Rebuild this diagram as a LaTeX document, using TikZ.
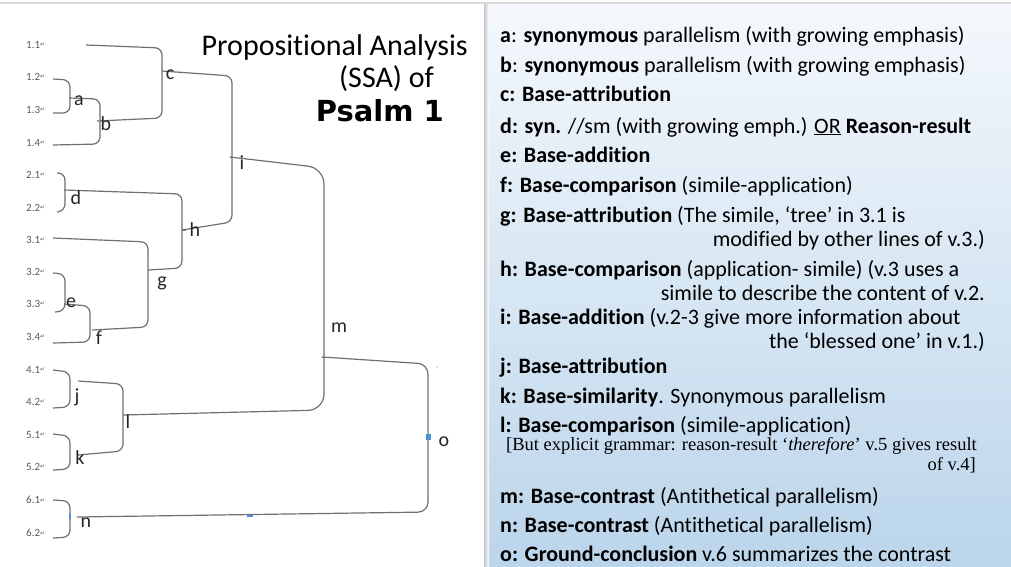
\documentclass[tikz,border=0pt]{standalone}
\usepackage{fontspec}
\setmainfont[RawFeature=-liga]{Carlito}
\newfontfamily\arialf{DejaVu Sans}
\newfontfamily\timesf{Liberation Serif}
\newfontfamily\djv{DejaVu Sans}
\definecolor{treeline}{HTML}{707070}
\definecolor{versecol}{HTML}{5A5A5A}
\definecolor{paneltop}{HTML}{F4F8FC}
\definecolor{panelbot}{HTML}{BBD5EB}
\definecolor{markblue}{HTML}{4F8FD8}
\begin{document}
\begin{tikzpicture}[x=1pt,y=-1pt,
  branch/.style={draw=treeline, line width=1.2pt, rounded corners=7pt},
  verse/.style={anchor=west, inner sep=0pt, text=versecol, font=\fontsize{11}{11}\selectfont},
  rel/.style={inner sep=0pt, text=black!85, font=\fontsize{20}{20}\selectfont},
  desc/.style={anchor=base west, inner sep=0pt, font=\fontsize{22}{22}\selectfont},
  descr/.style={anchor=base east, inner sep=0pt, font=\fontsize{22}{22}\selectfont},
  note/.style={inner sep=0pt, font=\timesf\fontsize{18.5}{18.5}\selectfont}]
\useasboundingbox (0,0) rectangle (1011,566);
\fill[white] (0,0) rectangle (1011,566);
% top rule
\fill[black!15] (0,1.5) rectangle (1011,4);
% right panel
\shade[top color=paneltop, bottom color=panelbot] (484,4) rectangle (1011,566);
\shade[left color=black!22, right color=paneltop!0] (484,4) rectangle (489,566);

% title
\node[anchor=base east, inner sep=0pt, font=\fontsize{30}{30}\selectfont] (t1) at (468,55) {Propositional Analysis};
\node[anchor=base east, inner sep=0pt, font=\fontsize{30}{30}\selectfont] (t2) at (434,87) {(SSA) of};
\node[anchor=base east, inner sep=0pt, font=\arialf\bfseries\fontsize{29}{29}\selectfont] (t3) at (444,121) {Psalm 1};

% verse labels
\foreach \lab/\yy in {1.1/45,1.2/77,1.3/110,1.4/143,2.1/175,2.2/208,3.1/240,3.2/272,3.3/304,3.4/337,4.1/370,4.2/402,5.1/435,5.2/467,6.1/500,6.2/533}{
  \node[verse] (v\lab) at (26,\yy) {\lab\raisebox{0.3ex}{\djv\fontsize{6}{6}\selectfont ↵}};
}

% leaf coordinates
\coordinate (L11) at (86,45);
\coordinate (L12) at (53,79);
\coordinate (L13) at (53,113);
\coordinate (L14) at (53,145);
\coordinate (L21) at (57,173);
\coordinate (L22) at (57,212);
\coordinate (L31) at (53,238);
\coordinate (L32) at (53,273);
\coordinate (L33) at (55,312);
\coordinate (L34) at (53,343);
\coordinate (L41) at (53,370);
\coordinate (L42) at (53,408);
\coordinate (L51) at (53,434);
\coordinate (L52) at (53,470);
\coordinate (L61) at (53,500);
\coordinate (L62) at (53,538);
% junctions
\coordinate (A) at (69,98);
\coordinate (B) at (97,121);
\coordinate (C) at (162,71);
\coordinate (D) at (64,190);
\coordinate (E) at (64,304);
\coordinate (F) at (92,330);
\coordinate (G) at (148,270);
\coordinate (H) at (182,230);
\coordinate (I) at (230,157);
\coordinate (J) at (78,381);
\coordinate (K) at (78,455);
\coordinate (Lj) at (123,415);
\coordinate (M) at (322,357);
\coordinate (N) at (77,517);

% brackets
\draw[branch] (L12) -- (70,80) -- (70,113) -- (L13);
\draw[branch] (A) -- (100,99) -- (100,144) -- (L14);
\draw[branch] (L11) -- (162,48) -- (162,118) -- (B);
\draw[branch] (C) -- (232,76) -- (232,222) -- (H);
\draw[branch] (L21) -- (65,173) -- (65,211) -- (L22);
\draw[branch] (D) -- (182,194) -- (182,268) -- (G);
\draw[branch] (L31) -- (148,242) -- (148,327) -- (F);
\draw[branch] (L32) -- (65,274) -- (65,311) -- (L33);
\draw[branch] (E) -- (90,306) -- (90,342) -- (L34);
\draw[branch] (L41) -- (70,372) -- (70,407) -- (L42);
\draw[branch] (J) -- (123,384) -- (123,451) -- (K);
\draw[branch] (L51) -- (70,436) -- (70,469) -- (L52);
\draw[branch] (L61) -- (70,501) -- (70,537) -- (L62);
\draw[branch, rounded corners=16pt] (I) -- (324,168) -- (324,410) -- (Lj);
\draw[branch, rounded corners=10pt] (M) -- (428,364) -- (428,512) -- (N);
% small ticks
\draw[treeline, line width=1pt] (I) -- (236,157);
\draw[treeline, line width=1pt] (M) -- (326,357);
\draw[treeline, line width=1pt] (H) -- (186,230);

% blue handle marks
\fill[markblue] (426,434) rectangle (431,440);
\fill[markblue] (68.5,514) rectangle (70.5,519);
\fill[markblue] (247,514.5) rectangle (253,516.5);
\fill[black!50] (437,367) circle (0.6);

% relation letters
\node[rel] (ra) at (79,101) {a};
\node[rel] (rb) at (106,124) {b};
\node[rel] (rc) at (170,75) {c};
\node[rel] (rd) at (76,198) {d};
\node[rel] (re) at (71,303) {e};
\node[rel] (rf) at (99,338) {f};
\node[rel] (rg) at (162,283) {g};
\node[rel] (rh) at (195,230) {h};
\node[rel] (ri) at (242,163) {i};
\node[rel] (rj) at (77,397) {j};
\node[rel] (rk) at (80,458) {k};
\node[rel] (rl) at (128,422) {l};
\node[rel] (rm) at (339,328) {m};
\node[rel] (rn) at (86,523) {n};
\node[rel] (ro) at (444,442) {o};

% descriptions
\node[desc] (da) at (500,42) {\textbf{a}: \textbf{synonymous} parallelism (with growing emphasis)};
\node[desc] (db) at (500,72) {\textbf{b}: \textbf{synonymous} parallelism (with growing emphasis)};
\node[desc] (dc) at (500,101) {\textbf{c: Base-attribution}};
\node[desc] (dd) at (500,133) {\textbf{d: syn.} //sm (with growing emph.) \underline{OR} \textbf{Reason-result}};
\node[desc] (de) at (500,162) {\textbf{e: Base-addition}};
\node[desc] (df) at (500,192) {\textbf{f: Base-comparison} (simile-application)};
\node[desc] (dg) at (500,222) {\textbf{g: Base-attribution} (The simile, ‘tree’ in 3.1 is};
\node[descr] (dg2) at (985,246) {modified by other lines of v.3.)};
\node[desc] (dh) at (500,276) {\textbf{h: Base-comparison} (application- simile) (v.3 uses a};
\node[descr] (dh2) at (985,300) {simile to describe the content of v.2.};
\node[desc] (di) at (500,324) {\textbf{i: Base-addition} (v.2-3 give more information about};
\node[descr] (di2) at (985,348) {the ‘blessed one’ in v.1.)};
\node[desc] (dj) at (500,373) {\textbf{j: Base-attribution}};
\node[desc] (dk) at (500,403) {\textbf{k: Base-similarity}. Synonymous parallelism};
\node[desc] (dl) at (500,432) {\textbf{l: Base-comparison} (simile-application)};
\node[note, anchor=base east] (dl2) at (977,450) {[But explicit grammar: reason-result ‘\textit{therefore}’ v.5 gives result};
\node[note, anchor=base east] (dl3) at (976,470) {of v.4]};
\node[desc] (dm) at (500,503) {\textbf{m: Base-contrast} (Antithetical parallelism)};
\node[desc] (dn) at (500,532) {\textbf{n: Base-contrast} (Antithetical parallelism)};
\node[desc] (do) at (500,561) {\textbf{o: Ground-conclusion} v.6 summarizes the contrast};
\end{tikzpicture}
\end{document}
